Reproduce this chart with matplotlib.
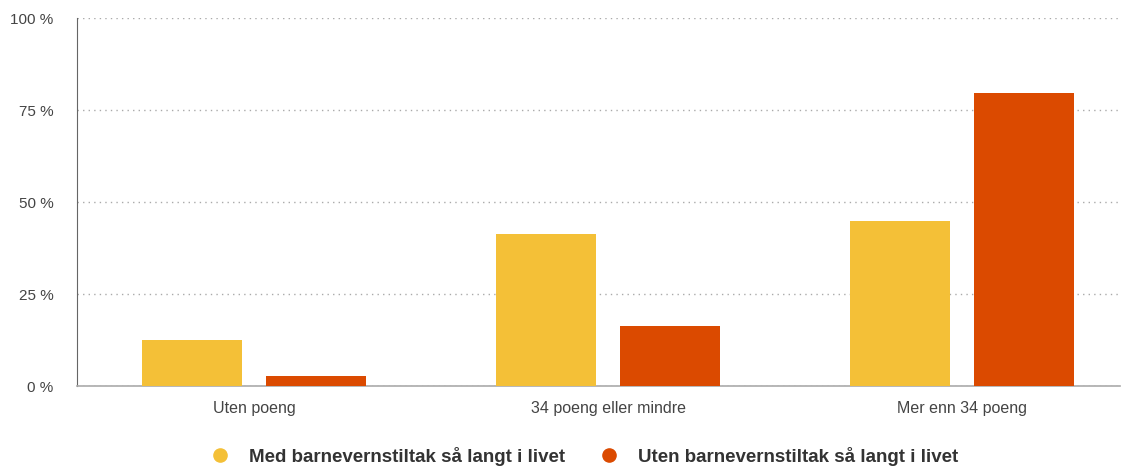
import matplotlib.pyplot as plt
import numpy as np
from matplotlib.lines import Line2D

plt.rcParams['font.family'] = ['Liberation Sans', 'DejaVu Sans']

# data
kategorier = ["Uten poeng", "34 poeng eller mindre", "Mer enn 34 poeng"]
med_tiltak = [12.5, 41.3, 44.8]
uten_tiltak = [2.7, 16.3, 79.6]
serier = ["Med barnevernstiltak så langt i livet", "Uten barnevernstiltak så langt i livet"]
yticks = [0, 25, 50, 75, 100]
ytick_labels = ["0 %", "25 %", "50 %", "75 %", "100 %"]

gul = "#F4C037"
rod = "#DB4A00"

fig = plt.figure(figsize=(11.29, 4.68), dpi=100)
ax = fig.add_axes([0.0682, 0.175, 0.924, 0.7865])

x = np.arange(len(kategorier))
w = 0.282
off = 0.175
ax.bar(x - off, med_tiltak, w, color=gul, zorder=3)
ax.bar(x + off, uten_tiltak, w, color=rod, zorder=3)

ax.set_xlim(-0.5, 2.446)
ax.set_ylim(0, 100)

# gridlines
ax.set_yticks(yticks)
ax.set_yticklabels(ytick_labels)
ax.yaxis.grid(True, linestyle=(0, (1, 3)), color="#aaaaaa", linewidth=1)
ax.set_axisbelow(True)

for s in ["top", "right"]:
    ax.spines[s].set_visible(False)
ax.spines["left"].set_color("#666666")
ax.spines["bottom"].set_color("#aaaaaa")
ax.spines["bottom"].set_linewidth(1.2)

ax.set_xticks(x)
ax.set_xticklabels(kategorier)
ax.tick_params(axis="x", length=0, pad=11, labelsize=11.5, labelcolor="#444444")
ax.tick_params(axis="y", length=0, pad=17, labelsize=11, labelcolor="#444444")

# legend
handles = [Line2D([], [], marker="o", linestyle="", markersize=9.5, color=gul),
           Line2D([], [], marker="o", linestyle="", markersize=9.5, color=rod)]
leg = fig.legend(handles, serier, loc="center", bbox_to_anchor=(0.5133, 0.025),
                 ncol=2, frameon=False, handletextpad=0.55, columnspacing=1.35,
                 prop={"weight": "bold", "size": 13.5})
for t in leg.get_texts():
    t.set_color("#333333")

fig.savefig("out.png", dpi=100)
